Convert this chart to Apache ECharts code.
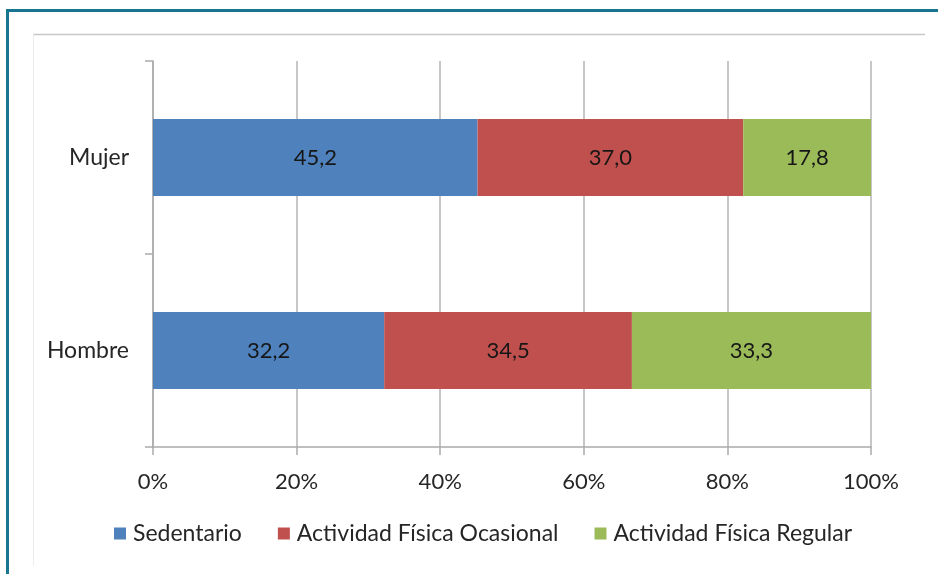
<!DOCTYPE html>
<html>
<head>
<meta charset="utf-8">
<script src="https://cdn.jsdelivr.net/npm/echarts@6/dist/echarts.min.js"></script>
<style>
html,body{margin:0;padding:0;background:#fff;}
#c{width:938px;height:574px;}
</style>
</head>
<body>
<div id="c"></div>
<script>
var categories = ['Hombre', 'Mujer'];
var seriesNames = ['Sedentario', 'Actividad Física Ocasional', 'Actividad Física Regular'];
var sedentario = [32.2, 45.2];
var ocasional = [34.5, 37.0];
var regular = [33.3, 17.8];
var xTicks = [0, 20, 40, 60, 80, 100];
var colors = ['#4F81BD', '#C0504D', '#9BBB59'];

var FONT = 'Lato';
var chart = echarts.init(document.getElementById('c'), null, {renderer: 'canvas'});
function fmt(v){ return v.toFixed(1).replace('.', ','); }
function mk(name, data, i){
  return {
    name: name, type: 'bar', stack: 'total', data: data,
    barWidth: '40%',
    itemStyle: {color: colors[i]},
    label: {show: true, position: 'inside', color: '#161616', fontFamily: FONT, fontSize: 22,
      formatter: function(p){ return fmt(p.value); }}
  };
}
chart.setOption({
  animation: false,
  backgroundColor: '#fff',
  graphic: [
    {type: 'line', shape: {x1: 7.5, y1: 10.5, x2: 938, y2: 10.5}, style: {stroke: '#17758F', lineWidth: 3}},
    {type: 'line', shape: {x1: 7.5, y1: 9, x2: 7.5, y2: 574}, style: {stroke: '#17758F', lineWidth: 3}},
    {type: 'line', shape: {x1: 33, y1: 34.5, x2: 925, y2: 34.5}, style: {stroke: '#c8c8c8', lineWidth: 1.5}},
    {type: 'line', shape: {x1: 33.5, y1: 34, x2: 33.5, y2: 566}, style: {stroke: '#ececec', lineWidth: 1}}
  ],
  grid: {left: 153, right: 67, top: 61, bottom: 127, containLabel: false},
  legend: {
    left: 109, top: 517, itemWidth: 12, itemHeight: 12, itemGap: 36,
    icon: 'rect',
    textStyle: {fontFamily: FONT, fontSize: 23, color: '#262626', padding: [0,0,0,2]},
    data: seriesNames
  },
  xAxis: {
    type: 'value', min: xTicks[0], max: xTicks[xTicks.length-1], interval: 20,
    axisLine: {show: true, lineStyle: {color: '#aaa', width: 1.5}},
    axisTick: {show: true, length: 8, lineStyle: {color: '#aaa', width: 1.5}},
    splitLine: {show: true, lineStyle: {color: '#b5b5b5', width: 1.5}},
    axisLabel: {fontFamily: FONT, fontSize: 22, color: '#262626', margin: 24,
      formatter: function(v){ return v + '%'; }}
  },
  yAxis: {
    type: 'category', data: categories,
    axisLine: {show: true, lineStyle: {color: '#aaa', width: 1.5}},
    axisTick: {show: true, length: 8, lineStyle: {color: '#aaa', width: 1.5}},
    axisLabel: {fontFamily: FONT, fontSize: 23, color: '#262626', margin: 24}
  },
  series: [
    mk(seriesNames[0], sedentario, 0),
    mk(seriesNames[1], ocasional, 1),
    mk(seriesNames[2], regular, 2)
  ]
});
</script>
</body>
</html>
